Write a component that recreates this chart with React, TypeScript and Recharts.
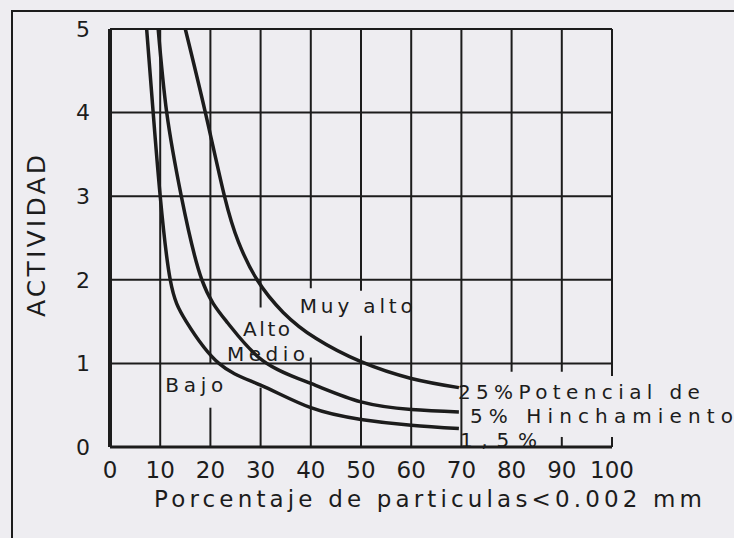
import React from 'react';
import { LineChart, Line, XAxis, YAxis, ReferenceLine, ReferenceDot, Label } from 'recharts';

// ---- data ----
const X_TICKS = [0, 10, 20, 30, 40, 50, 60, 70, 80, 90, 100];
const Y_TICKS = [0, 1, 2, 3, 4, 5];

// swelling potential boundary curves (x = % particles < 0.002 mm, y = activity)
const CURVE_1_5 = [
  { x: 7.3, y: 5 }, { x: 8.6, y: 4 }, { x: 10, y: 3 }, { x: 12, y: 2 }, { x: 15.2, y: 1.5 },
  { x: 21.7, y: 1 }, { x: 30, y: 0.74 }, { x: 40, y: 0.47 }, { x: 50, y: 0.33 }, { x: 60, y: 0.26 },
  { x: 69.5, y: 0.22 },
];
const CURVE_5 = [
  { x: 9.6, y: 5 }, { x: 11.3, y: 4 }, { x: 14.2, y: 3 }, { x: 18.3, y: 2 }, { x: 23.5, y: 1.48 },
  { x: 30.5, y: 1.03 }, { x: 40, y: 0.76 }, { x: 50, y: 0.54 }, { x: 60, y: 0.45 }, { x: 69.5, y: 0.42 },
];
const CURVE_25 = [
  { x: 15, y: 5 }, { x: 19, y: 4 }, { x: 22.8, y: 3 }, { x: 25.6, y: 2.45 }, { x: 29.3, y: 2 },
  { x: 34.5, y: 1.61 }, { x: 41, y: 1.3 }, { x: 50, y: 1.02 }, { x: 60, y: 0.82 }, { x: 69.5, y: 0.71 },
];

const ZONE_NAMES = ['Muy alto', 'Alto', 'Medio', 'Bajo'];
const CURVE_NAMES = ['25%Potencial de', '5% Hinchamiento', '1,5%'];
const X_TITLE = 'Porcentaje de particulas<0.002 mm';
const Y_TITLE = 'ACTIVIDAD';

// ---- layout (annotation anchors in data units, text widths in px) ----
const ZONE_POS = [
  { x: 37.8, y: 1.603, w: 113 },
  { x: 26.5, y: 1.328, w: 47 },
  { x: 23.3, y: 1.029, w: 78 },
  { x: 11.0, y: 0.658, w: 58 },
];
const CURVE_POS = [
  { x: 69.3, y: 0.574, w: 242 },
  { x: 71.7, y: 0.287, w: 263 },
  { x: 69.7, y: 0.0, w: 77 },
];

// grid segments [x, yFrom, yTo]
const V_GRID: [number, number, number][] = [
  [10, 0, 5],
  [20, 1, 5], [20, 0, 0.47],
  [30, 1.67, 5], [30, 0, 0.71],
  [40, 1.9, 5], [40, 0, 1.07],
  [50, 1.87, 5], [50, 0, 1.33],
  [60, 0, 5],
  [70, 0, 5],
  [80, 0.9, 5],
  [90, 0.9, 5], [90, 0, 0.12],
  [100, 0.85, 5], [100, 0, 0.12],
];
const H_GRID = [1, 2, 3, 4, 5];

const FONT = '"DejaVu Sans", "Liberation Sans", sans-serif';
const INK = '#1c1c1c';
const BG = '#eeedf1';

const makeText = (text: string, w: number, size: number) => (p: any) => (
  <text
    x={p.cx}
    y={p.cy}
    fontFamily={FONT}
    fontSize={size}
    fill={INK}
    textLength={w}
    lengthAdjust="spacing"
  >
    {text}
  </text>
);

export default function App() {
  return (
    <div style={{ position: 'absolute', left: 0, top: 0, width: 734, height: 538, background: BG, overflow: 'hidden' }}>
      <div
        style={{
          position: 'absolute', left: 11, top: 10, width: 800, height: 600,
          borderTop: `2px solid ${INK}`, borderLeft: `2px solid ${INK}`,
        }}
      />
      <div style={{ position: 'absolute', left: 0, top: 0 }}>
        <LineChart width={734} height={538} margin={{ top: 29, right: 122, bottom: 61, left: 50 }}>
          <XAxis
            type="number"
            dataKey="x"
            domain={[0, 100]}
            ticks={X_TICKS}
            interval={0}
            height={30}
            tickLine={false}
            tickSize={0}
            tickMargin={15}
            axisLine={{ stroke: INK, strokeWidth: 3 }}
            tick={{ fontSize: 23, fill: INK, fontFamily: FONT }}
          >
            <Label
              content={(p: any) => (
                <text
                  x={p.viewBox.x + 44}
                  y={p.viewBox.y + 60}
                  fontFamily={FONT}
                  fontSize={23}
                  fill={INK}
                  textLength={548}
                  lengthAdjust="spacing"
                >
                  {X_TITLE}
                </text>
              )}
            />
          </XAxis>
          <YAxis
            type="number"
            domain={[0, 5]}
            ticks={Y_TICKS}
            interval={0}
            width={60}
            tickLine={false}
            tickSize={0}
            tickMargin={20}
            axisLine={{ stroke: INK, strokeWidth: 4 }}
            tick={{ fontSize: 22, fill: INK, fontFamily: FONT }}
          >
            <Label
              content={(p: any) => {
                const cx = 36;
                const cy = p.viewBox.y + 207;
                return (
                  <text
                    x={cx}
                    y={cy}
                    transform={`rotate(-90 ${cx} ${cy})`}
                    textAnchor="middle"
                    dominantBaseline="central"
                    fontFamily={FONT}
                    fontSize={25}
                    fill={INK}
                    textLength={162}
                    lengthAdjust="spacing"
                  >
                    {Y_TITLE}
                  </text>
                );
              }}
            />
          </YAxis>

          {H_GRID.map((y) => (
            <ReferenceLine key={`h${y}`} segment={[{ x: 0, y }, { x: 100, y }]} stroke={INK} strokeWidth={2} />
          ))}
          {V_GRID.map(([x, y0, y1], i) => (
            <ReferenceLine key={`v${i}`} segment={[{ x, y: y0 }, { x, y: y1 }]} stroke={INK} strokeWidth={2} />
          ))}

          <Line data={CURVE_25} dataKey="y" type="natural" stroke={INK} strokeWidth={3.5} dot={false} isAnimationActive={false} />
          <Line data={CURVE_5} dataKey="y" type="natural" stroke={INK} strokeWidth={3.5} dot={false} isAnimationActive={false} />
          <Line data={CURVE_1_5} dataKey="y" type="natural" stroke={INK} strokeWidth={3.5} dot={false} isAnimationActive={false} />

          {ZONE_NAMES.map((name, i) => (
            <ReferenceDot key={name} x={ZONE_POS[i].x} y={ZONE_POS[i].y} r={0} shape={makeText(name, ZONE_POS[i].w, 20)} />
          ))}
          {CURVE_NAMES.map((name, i) => (
            <ReferenceDot key={name} x={CURVE_POS[i].x} y={CURVE_POS[i].y} r={0} shape={makeText(name, CURVE_POS[i].w, 20)} />
          ))}
        </LineChart>
      </div>
    </div>
  );
}
